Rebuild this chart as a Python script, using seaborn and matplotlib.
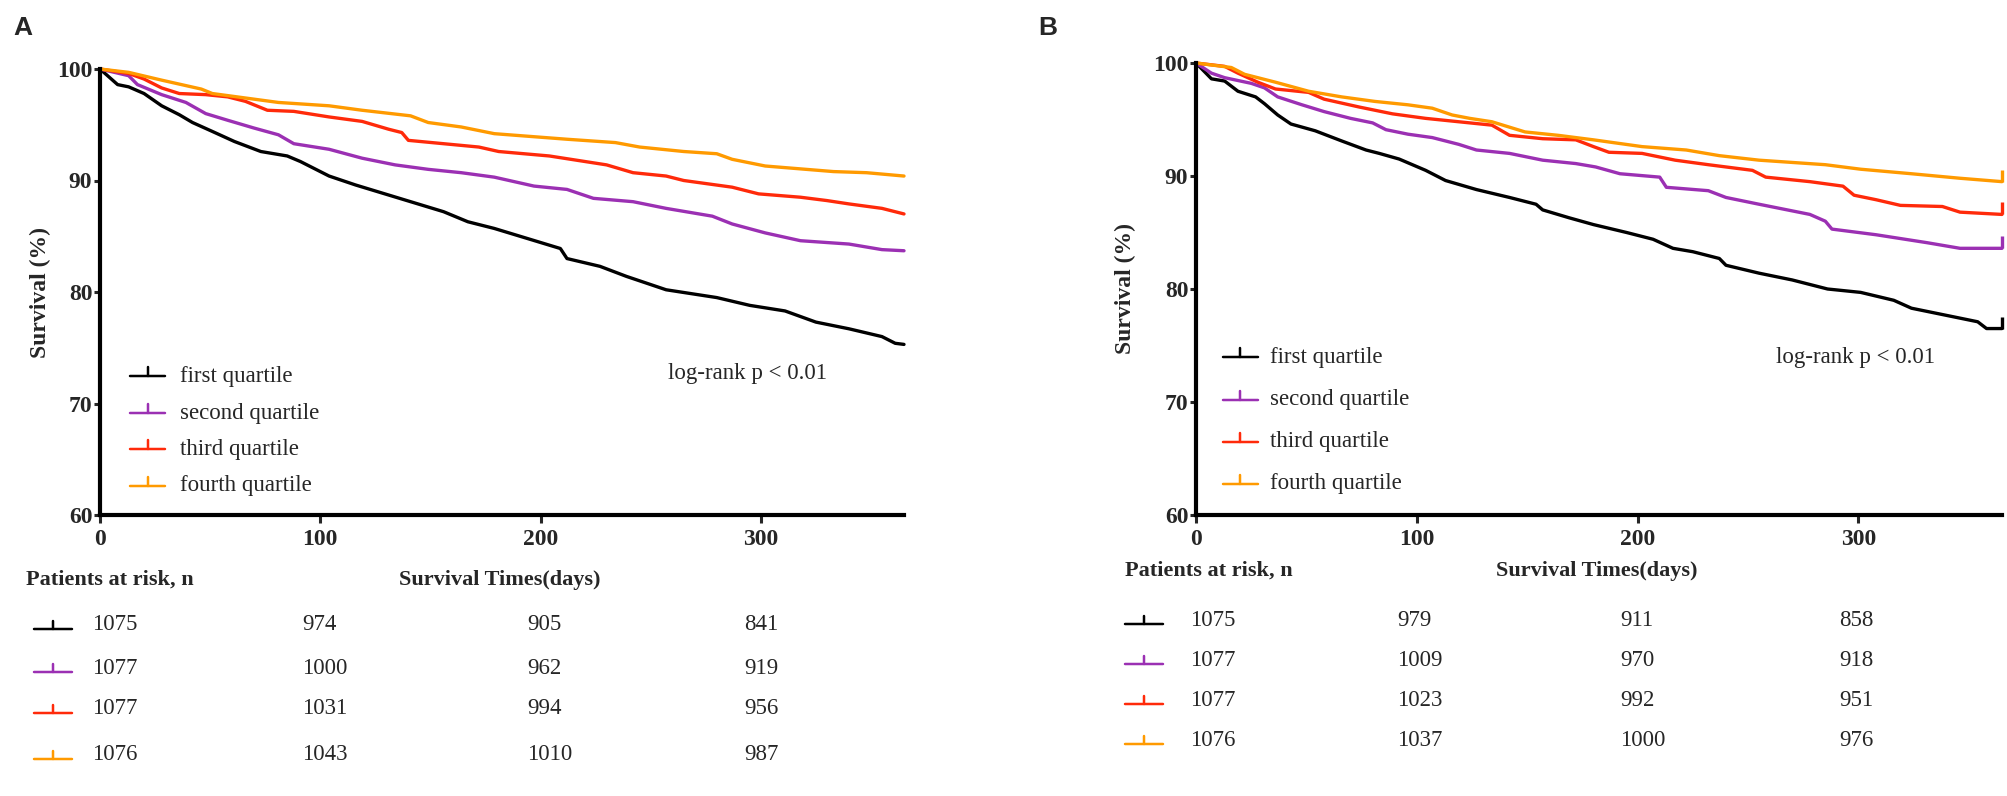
import numpy as np
import pandas as pd
import matplotlib
matplotlib.use("Agg")
import matplotlib.pyplot as plt
from matplotlib.lines import Line2D
import seaborn as sns

# ---------------- data ----------------
groups = ["first quartile", "second quartile", "third quartile", "fourth quartile"]
colors = ["#000000", "#9B30B3", "#FF2A0A", "#FF9A00"]

A_t1 = [0, 8, 13, 20, 28, 36, 42, 51, 61, 73, 85, 91, 104, 116, 126, 141, 156, 167, 179, 194, 209, 212, 227, 239, 257, 280, 295, 311, 325, 340, 355, 361, 365]
A_s1 = [100, 98.6, 98.4, 97.8, 96.7, 95.9, 95.2, 94.4, 93.5, 92.6, 92.2, 91.7, 90.4, 89.6, 89.0, 88.1, 87.2, 86.3, 85.7, 84.8, 83.9, 83.0, 82.3, 81.4, 80.2, 79.5, 78.8, 78.3, 77.3, 76.7, 76.0, 75.4, 75.3]
A_t2 = [0, 13, 17, 28, 39, 48, 58, 70, 81, 88, 104, 119, 134, 149, 164, 179, 197, 212, 224, 242, 257, 278, 287, 302, 318, 340, 355, 365]
A_s2 = [100, 99.4, 98.6, 97.7, 97.0, 96.0, 95.4, 94.7, 94.1, 93.3, 92.8, 92.0, 91.4, 91.0, 90.7, 90.3, 89.5, 89.2, 88.4, 88.1, 87.5, 86.8, 86.1, 85.3, 84.6, 84.3, 83.8, 83.7]
A_t3 = [0, 13, 20, 28, 36, 48, 58, 66, 76, 88, 104, 119, 131, 137, 140, 156, 172, 181, 204, 230, 242, 257, 265, 287, 299, 318, 330, 340, 355, 365]
A_s3 = [100, 99.6, 99.1, 98.3, 97.8, 97.7, 97.5, 97.1, 96.3, 96.2, 95.7, 95.3, 94.6, 94.3, 93.6, 93.3, 93.0, 92.6, 92.2, 91.4, 90.7, 90.4, 90.0, 89.4, 88.8, 88.5, 88.2, 87.9, 87.5, 87.0]
A_t4 = [0, 13, 28, 46, 51, 66, 81, 104, 119, 141, 149, 164, 179, 212, 234, 245, 265, 280, 287, 302, 333, 348, 365]
A_s4 = [100, 99.7, 99.0, 98.2, 97.8, 97.4, 97.0, 96.7, 96.3, 95.8, 95.2, 94.8, 94.2, 93.7, 93.4, 93.0, 92.6, 92.4, 91.9, 91.3, 90.8, 90.7, 90.4]

B_t1 = [0, 7, 13, 19, 27, 31, 37, 43, 54, 66, 77, 83, 92, 104, 113, 127, 142, 154, 157, 169, 180, 195, 207, 216, 225, 237, 240, 255, 270, 286, 301, 316, 324, 339, 354, 358, 365]
B_s1 = [100, 98.6, 98.4, 97.5, 97.0, 96.4, 95.4, 94.6, 94.0, 93.1, 92.3, 92.0, 91.5, 90.5, 89.6, 88.8, 88.1, 87.5, 87.0, 86.3, 85.7, 85.0, 84.4, 83.6, 83.3, 82.7, 82.1, 81.4, 80.8, 80.0, 79.7, 79.0, 78.3, 77.7, 77.1, 76.5, 76.5]
B_t2 = [0, 7, 13, 25, 31, 37, 48, 58, 70, 80, 86, 96, 107, 119, 127, 142, 157, 172, 181, 192, 210, 213, 232, 240, 255, 278, 285, 288, 308, 331, 346, 365]
B_s2 = [100, 99.1, 98.7, 98.2, 97.8, 97.0, 96.3, 95.7, 95.1, 94.7, 94.1, 93.7, 93.4, 92.8, 92.3, 92.0, 91.4, 91.1, 90.8, 90.2, 89.9, 89.0, 88.7, 88.1, 87.5, 86.6, 86.0, 85.3, 84.8, 84.1, 83.6, 83.6]
B_t3 = [0, 13, 19, 28, 36, 51, 58, 74, 89, 104, 119, 134, 142, 157, 172, 180, 187, 202, 217, 232, 252, 258, 278, 293, 298, 308, 319, 338, 346, 365]
B_s3 = [100, 99.7, 99.1, 98.3, 97.7, 97.4, 96.8, 96.1, 95.5, 95.1, 94.8, 94.5, 93.6, 93.3, 93.2, 92.6, 92.1, 92.0, 91.4, 91.0, 90.5, 89.9, 89.5, 89.1, 88.3, 87.9, 87.4, 87.3, 86.8, 86.6]
B_t4 = [0, 16, 22, 36, 51, 66, 81, 96, 107, 116, 124, 134, 149, 164, 180, 202, 222, 237, 255, 285, 301, 324, 346, 365]
B_s4 = [100, 99.6, 99.0, 98.3, 97.5, 97.0, 96.6, 96.3, 96.0, 95.4, 95.1, 94.8, 93.9, 93.6, 93.2, 92.6, 92.3, 91.8, 91.4, 91.0, 90.6, 90.2, 89.8, 89.5]

risk_times = [0, 100, 200, 300]
A_risk = [[1075, 974, 905, 841], [1077, 1000, 962, 919], [1077, 1031, 994, 956], [1076, 1043, 1010, 987]]
B_risk = [[1075, 979, 911, 858], [1077, 1009, 970, 918], [1077, 1023, 992, 951], [1076, 1037, 1000, 976]]

x_ticks = [0, 100, 200, 300]
y_ticks = [60, 70, 80, 90, 100]

# ---------------- style ----------------
sns.set_theme(style="ticks")
plt.rcParams["font.family"] = ["Liberation Serif", "DejaVu Serif"]
plt.rcParams["axes.edgecolor"] = "black"

W, H = 2008, 796
fig = plt.figure(figsize=(W / 100, H / 100), dpi=100)
fig.patch.set_facecolor("white")


def fx(x):
    return x / W


def fy(y):
    return 1 - y / H


def make_df(ts, ss):
    rows = []
    for g, t, s in zip(groups, ts, ss):
        for ti, si in zip(t, s):
            rows.append((g, ti, si))
    return pd.DataFrame(rows, columns=["group", "day", "surv"])


def style_axes(ax, ylab_x):
    ax.set_xlim(0, 365)
    ax.set_ylim(60, 100)
    ax.set_xticks(x_ticks)
    ax.set_yticks(y_ticks)
    sns.despine(ax=ax)
    for sp in ["left", "bottom"]:
        ax.spines[sp].set_linewidth(3)
    ax.tick_params(axis="y", direction="out", length=4.5, width=2.2, pad=1, labelsize=17)
    ax.tick_params(axis="x", direction="out", length=6, width=2.2, pad=4, labelsize=17)
    for lab in ax.get_xticklabels() + ax.get_yticklabels():
        lab.set_fontweight("bold")
    ax.set_xlabel("")
    ax.set_ylabel("Survival (%)", fontsize=17, fontweight="bold")
    ax.yaxis.set_label_coords(ylab_x, 0.5)
    ax.set_facecolor("white")
    ax.grid(False)


def draw_curves(ax, df, censor):
    sns.lineplot(data=df, x="day", y="surv", hue="group", palette=dict(zip(groups, colors)),
                 estimator=None, sort=False, legend=False, linewidth=2.4, ax=ax, clip_on=False)
    if censor:
        for g, c in zip(groups, colors):
            sub = df[df.group == g]
            ax.plot(sub.day.iloc[-1], sub.surv.iloc[-1], marker=2, ms=9, mew=2.4, color=c,
                    clip_on=False)


def handle(x0, x1, y, c, tick=8, lw=2.4):
    fig.add_artist(Line2D([fx(x0), fx(x1)], [fy(y), fy(y)], color=c, lw=lw * 0.75,
                          transform=fig.transFigure))
    xm = (x0 + x1) / 2
    fig.add_artist(Line2D([fx(xm), fx(xm)], [fy(y), fy(y - tick)], color=c, lw=lw * 0.75,
                          transform=fig.transFigure))


def legend_block(x0, x1, xt, ys):
    for g, c, y in zip(groups, colors, ys):
        handle(x0, x1, y, c, tick=9)
        fig.text(fx(xt), fy(y), g, fontsize=16.5, ha="left", va="center")


def risk_table(xlab, xhead, yhead, sx0, sx1, col_x, row_y, risk):
    fig.text(fx(xlab), fy(yhead), "Patients at risk, n", fontsize=16, fontweight="bold",
             ha="left", va="center")
    fig.text(fx(xhead), fy(yhead), "Survival Times(days)", fontsize=16, fontweight="bold",
             ha="center", va="center")
    for r, c, y in zip(risk, colors, row_y):
        handle(sx0, sx1, y + 4, c, tick=8)
        for v, x in zip(r, col_x):
            fig.text(fx(x), fy(y), str(v), fontsize=16.5, ha="left", va="center")


# ---------------- panel A ----------------
axA = fig.add_axes([fx(100), fy(515), fx(904) - fx(100), fy(69) - fy(515)])
dfA = make_df([A_t1, A_t2, A_t3, A_t4], [A_s1, A_s2, A_s3, A_s4])
draw_curves(axA, dfA, censor=False)
style_axes(axA, -0.061)
legend_block(130, 165, 180, [376, 413, 449, 486])
fig.text(fx(668), fy(374), "log-rank p < 0.01", fontsize=16.5, ha="left", va="center")
risk_table(26, 500, 580, 34, 72, [92, 302, 527, 744], [625, 668, 709, 755], A_risk)

# ---------------- panel B ----------------
axB = fig.add_axes([fx(1196), fy(515), fx(2002) - fx(1196), fy(63) - fy(515)])
dfB = make_df([B_t1, B_t2, B_t3, B_t4], [B_s1, B_s2, B_s3, B_s4])
draw_curves(axB, dfB, censor=True)
style_axes(axB, -0.074)
legend_block(1223, 1258, 1270, [357, 400, 442, 484])
fig.text(fx(1776), fy(357), "log-rank p < 0.01", fontsize=16.5, ha="left", va="center")
risk_table(1125, 1597, 571, 1125, 1163, [1190, 1397, 1620, 1839], [620, 660, 700, 740], B_risk)

# panel letters
fig.text(fx(13), fy(16), "A", fontsize=19, fontweight="bold", family=["Liberation Sans", "DejaVu Sans"],
         ha="left", va="top")
fig.text(fx(1038), fy(16), "B", fontsize=19, fontweight="bold", family=["Liberation Sans", "DejaVu Sans"],
         ha="left", va="top")

fig.savefig("out.png", dpi=100, facecolor="white")
